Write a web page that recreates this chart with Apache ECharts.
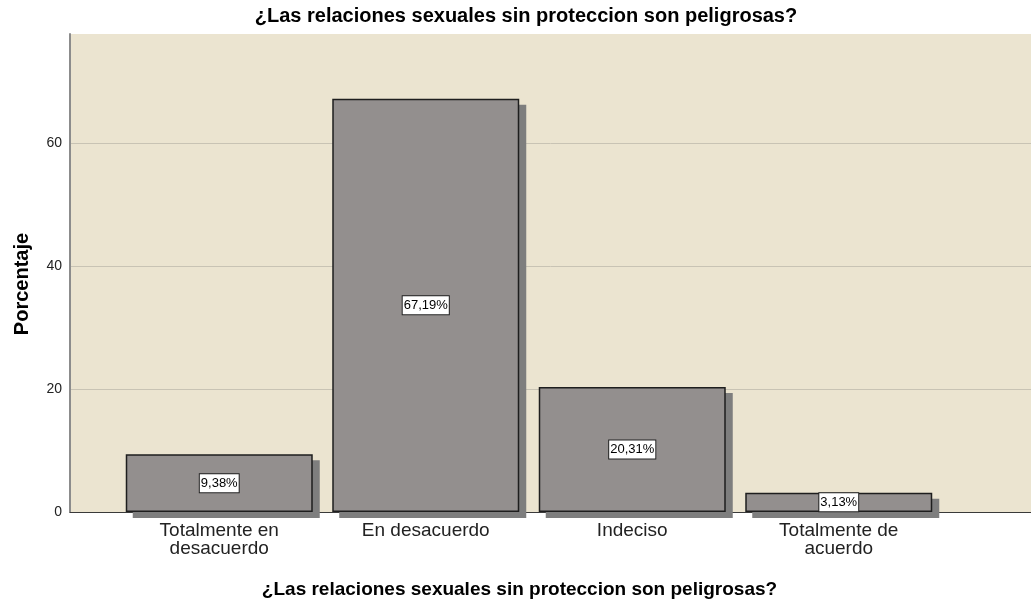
<!DOCTYPE html>
<html>
<head>
<meta charset="utf-8">
<script src="https://cdn.jsdelivr.net/npm/echarts@6/dist/echarts.min.js"></script>
<style>html,body{margin:0;padding:0;background:#fff;}#c{width:1031px;height:605px;}</style>
</head>
<body>
<div id="c"></div>
<script>
const categories = ['Totalmente en\ndesacuerdo', 'En desacuerdo', 'Indeciso', 'Totalmente de\nacuerdo'];
const percentages = [9.38, 67.19, 20.31, 3.13];
const yTicks = [0, 20, 40, 60];
const titleText = '¿Las relaciones sexuales sin proteccion son peligrosas?';

const FONT = '"Liberation Sans", Arial, sans-serif';
const BAR_W = 187;
const chart = echarts.init(document.getElementById('c'));
const yMax = 77.7;
chart.setOption({
  animation: false,
  title: {
    text: titleText, left: 521, top: 1, textAlign: 'center',
    textStyle: { fontFamily: FONT, fontSize: 20, fontWeight: 'bold', color: '#000' }
  },
  grid: [
    { left: 70, right: 0, top: 34, bottom: 93, backgroundColor: '#EBE4D0', show: true, borderWidth: 0 },
    { left: 116, width: 826, top: 34, bottom: 93 }
  ],
  xAxis: [
    { gridIndex: 0, type: 'value', min: 0, max: 1, axisLabel: { show: false }, axisTick: { show: false }, splitLine: { show: false },
      axisLine: { show: true, lineStyle: { color: '#3a3a3a', width: 1 } },
      name: titleText, nameLocation: 'middle', nameGap: 68,
      nameTextStyle: { fontFamily: FONT, fontSize: 19, fontWeight: 'bold', color: '#000', padding: [0, 62, 0, 0] } },
    { gridIndex: 1, type: 'category', data: categories, axisLine: { show: false }, axisTick: { show: false },
      axisLabel: { margin: 10, fontFamily: FONT, fontSize: 19, color: '#222', lineHeight: 18, interval: 0 } }
  ],
  yAxis: [
    { gridIndex: 0, type: 'value', min: 0, max: yMax, interval: 20,
      axisLine: { show: true, lineStyle: { color: '#8c8c8c', width: 2 } },
      axisTick: { show: false },
      axisLabel: { fontFamily: FONT, fontSize: 14, color: '#222', margin: 8,
        formatter: v => (yTicks.indexOf(v) >= 0 ? String(v) : ''), showMaxLabel: false },
      splitLine: { show: true, showMaxLine: false, lineStyle: { color: '#C8C3B4', width: 1 } },
      name: 'Porcentaje', nameLocation: 'middle', nameGap: 38,
      nameTextStyle: { fontFamily: FONT, fontSize: 20, fontWeight: 'bold', color: '#000', padding: [0, 22, 0, 0] } },
    { gridIndex: 1, type: 'value', min: 0, max: yMax, interval: 20, show: false }
  ],
  series: [
    {
      type: 'custom', xAxisIndex: 1, yAxisIndex: 1, z: 1, silent: true,
      data: percentages.map((v, i) => [i, v]),
      renderItem: (params, api) => {
        const top = api.coord([api.value(0), api.value(1)]);
        const base = api.coord([api.value(0), 0]);
        return { type: 'rect',
          shape: { x: top[0] - BAR_W / 2 + 7, y: top[1] + 6, width: BAR_W, height: base[1] - top[1] },
          style: { fill: '#7E7E7E' } };
      }
    },
    {
      type: 'bar', xAxisIndex: 1, yAxisIndex: 1, z: 2, data: percentages, barWidth: BAR_W,
      itemStyle: { color: '#938F8E', borderColor: '#1E1E1E', borderWidth: 1.5 },
      label: { show: true, position: 'inside', fontFamily: FONT, fontSize: 13, color: '#000',
        backgroundColor: '#fff', borderColor: '#222', borderWidth: 1, padding: [3, 1, 2, 1],
        formatter: p => p.value.toFixed(2).replace('.', ',') + '%' }
    }
  ]
});
</script>
</body>
</html>
